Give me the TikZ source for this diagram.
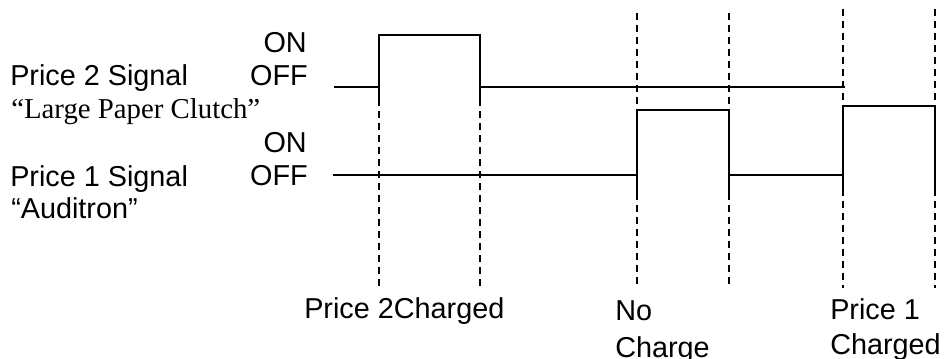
\documentclass[tikz,border=0pt]{standalone}
\usepackage{fontspec}
\setmainfont{Liberation Sans}
\newfontfamily\timesfont{Liberation Serif}
\usetikzlibrary{calc}

\begin{document}
\begin{tikzpicture}[x=0.75pt,y=-0.75pt,
  sig/.style={line width=1.5pt},
  guide/.style={line width=1.3pt,dash pattern=on 5.25pt off 3.75pt},
  lbl/.style={inner sep=0pt,font=\fontsize{21.6}{27}\selectfont},
  tlbl/.style={inner sep=0pt,font=\timesfont\fontsize{21.6}{27}\selectfont}]

\clip (0,0) rectangle (945,358);

% price 2 signal corners
\coordinate (a0) at (334,87);
\coordinate (a1) at (379,87);
\coordinate (a2) at (379,35);
\coordinate (a3) at (480,35);
\coordinate (a4) at (480,87);
\coordinate (a5) at (845,87);

% price 1 signal corners
\coordinate (b0) at (333,175);
\coordinate (b1) at (637,175);
\coordinate (b2) at (637,110);
\coordinate (b3) at (729,110);
\coordinate (b4) at (729,175);
\coordinate (b5) at (843,175);
\coordinate (b6) at (843,106);
\coordinate (b7) at (935,106);

% price 2 pulse
  \draw[sig] (a0) -- (a1) -- (a2) -- (a3) -- (a4) -- (a5);
  \draw[sig] (a1) -- ++(0,14);
  \draw[sig] (a4) -- ++(0,18);

% price 1 pulses
  \draw[sig] (b0) -- (b1) -- (b2) -- (b3) -- (b4) -- (b5) -- (b6) -- (b7) -- ($ (b7) + (0,87) $);
  \draw[sig] (b1) -- ++(0,22);
  \draw[sig] (b4) -- ++(0,22);
  \draw[sig] (b5) -- ++(0,18);

% time markers
  \draw[guide] (a1) -- (379,287);
  \draw[guide] (a4) -- (480,287);
  \draw[guide] (637,13) -- (637,288);
  \draw[guide] (729,13) -- (729,288);
  \draw[guide] (843,9) -- (843,288);
  \draw[guide] (935,9) -- (935,288);

% price 2 labels
\node[lbl,anchor=base east] (on2) at (307,52) {ON};
\node[lbl,anchor=base east] (off2) at (308,85) {OFF};
\node[lbl,anchor=base west] (sig2) at (10,85) {Price 2 Signal};
\node[tlbl,anchor=base west] (clutch) at (11,118) {“Large Paper Clutch”};

% price 1 labels
\node[lbl,anchor=base east] (on1) at (307,152) {ON};
\node[lbl,anchor=base east] (off1) at (308,185) {OFF};
\node[lbl,anchor=base west] (sig1) at (10,186) {Price 1 Signal};
\node[lbl,anchor=base west] (auditron) at (11,218) {“Auditron”};

% outcomes
\node[lbl,anchor=base west] (charged2) at (304,318) {Price 2Charged};
\node[lbl,anchor=base west] (no) at (615,320) {No};
\node[lbl,anchor=base west] (nocharge) at (615,357) {Charge};
\node[lbl,anchor=base west] (price1) at (830,319) {Price 1};
\node[lbl,anchor=base west] (charged1) at (830,354) {Charged};

\end{tikzpicture}
\end{document}
